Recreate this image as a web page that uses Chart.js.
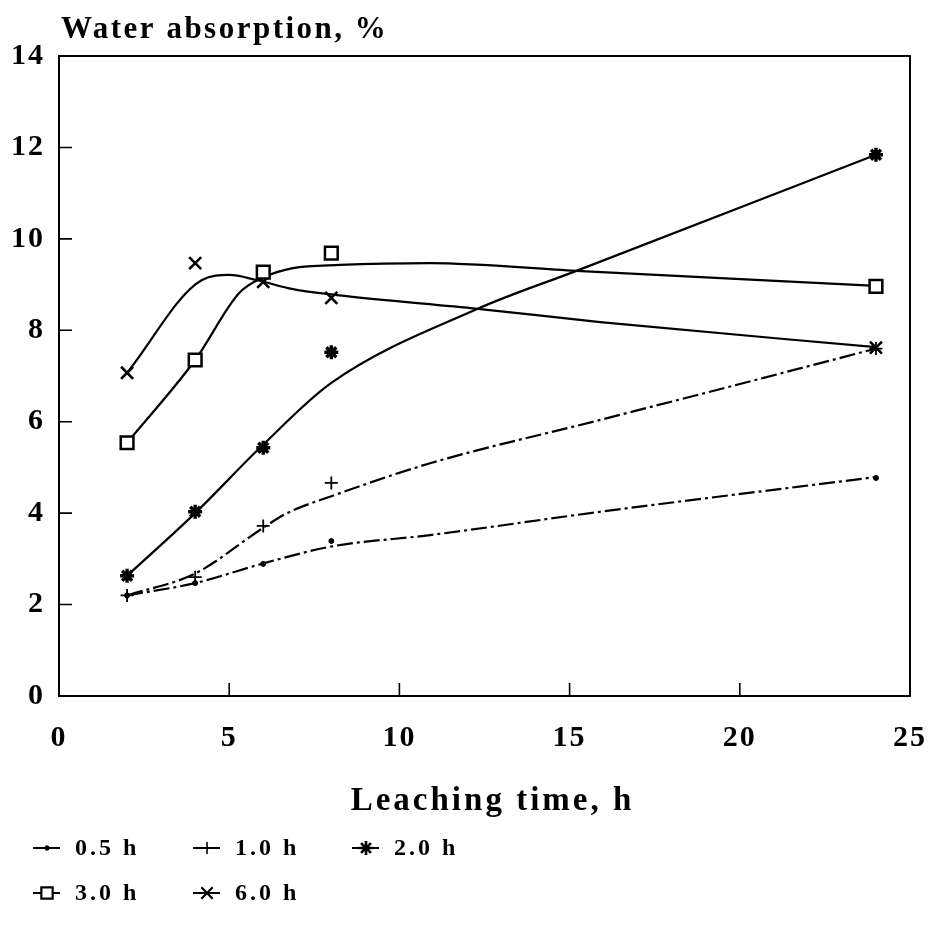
<!DOCTYPE html>
<html>
<head>
<meta charset="utf-8">
<script src="https://cdn.jsdelivr.net/npm/chart.js@4.4.1/dist/chart.umd.min.js"></script>
<style>
html,body{margin:0;padding:0;background:#fff;}
canvas{display:block;}
</style>
</head>
<body>
<canvas id="c" width="933" height="937"></canvas>
<script>
// ---- data ----
const hours = [2, 4, 6, 8, 24];
const seriesLabels = ['0.5 h', '1.0 h', '2.0 h', '3.0 h', '6.0 h'];
const t05 = [2.2, 2.47, 2.89, 3.39, 4.77];
const t10 = [2.2, 2.6, 3.72, 4.66, 7.6];
const t20 = [2.63, 4.03, 5.43, 7.52, 11.84];
const t30 = [5.54, 7.35, 9.27, 9.69, 8.96];
const t60 = [7.07, 9.47, 9.06, 8.71, 7.62];

// fitted curves (as drawn in the figure)
const curve05X = [2, 4, 6, 8, 10.9, 15.9, 24];
const curve05Y = [2.2, 2.47, 2.9, 3.27, 3.52, 4.03, 4.79];
const curve10X = [2, 4, 6, 6.7, 8, 10.9, 15.9, 20.7, 24];
const curve10Y = [2.2, 2.68, 3.68, 4.0, 4.37, 5.09, 6.04, 6.96, 7.6];
const curve20X = [2, 4, 6, 8, 12.3, 15.2, 24];
const curve20Y = [2.63, 4.0, 5.5, 6.85, 8.47, 9.3, 11.84];
const curve30X = [2, 4, 5.3, 6.05, 6.87, 8.26, 10.9, 15.2, 24];
const curve30Y = [5.54, 7.35, 8.82, 9.17, 9.36, 9.43, 9.47, 9.3, 8.97];
const curve60X = [2, 4.2, 5.0, 5.8, 6.87, 8.17, 12.3, 15.9, 24];
const curve60Y = [7.07, 9.1, 9.21, 9.1, 8.9, 8.77, 8.47, 8.18, 7.63];

const xTicks = [0, 5, 10, 15, 20, 25];
const yTicks = [0, 2, 4, 6, 8, 10, 12, 14];
const titleText = 'Water absorption, %';
const xTitleText = 'Leaching time, h';

// ---- build ----
const FONT = "'Liberation Serif', 'Times New Roman', serif";
const values = [t05, t10, t20, t30, t60];
const curveXs = [curve05X, curve10X, curve20X, curve30X, curve60X];
const curveYs = [curve05Y, curve10Y, curve20Y, curve30Y, curve60Y];
const dashes = [[16, 4, 3, 4], [16, 4, 3, 4], [], [], []];
const marks = [
  {style: 'circle', r: 2.5, bw: 1, bg: '#000'},
  {style: 'cross', r: 6.5, bw: 1.8, bg: '#000'},
  {style: 'star', r: 7, bw: 3.4, bg: '#000'},
  {style: 'rect', r: 9, bw: 2.5, bg: '#fff'},
  {style: 'crossRot', r: 8.5, bw: 2.6, bg: '#000'}
];
const legendMarks = [
  {style: 'circle', r: 2.2, bw: 1, bg: '#000'},
  {style: 'cross', r: 6, bw: 1.6, bg: '#000'},
  {style: 'star', r: 7, bw: 2.6, bg: '#000'},
  {style: 'rect', r: 8, bw: 2.2, bg: '#fff'},
  {style: 'crossRot', r: 8, bw: 2.2, bg: '#000'}
];
const pts = (xs, ys) => xs.map((x, i) => ({x: x, y: ys[i]}));

const datasets = [];
seriesLabels.forEach((lab, i) => {
  datasets.push({
    label: lab + ' curve',
    data: pts(curveXs[i], curveYs[i]),
    showLine: true,
    pointRadius: 0,
    pointHoverRadius: 0,
    borderColor: '#000',
    borderWidth: 2.2,
    borderDash: dashes[i],
    cubicInterpolationMode: 'monotone',
    fill: false,
    order: 2
  });
});
seriesLabels.forEach((lab, i) => {
  datasets.push({
    label: lab,
    data: pts(hours, values[i]),
    showLine: false,
    pointStyle: marks[i].style,
    pointRadius: marks[i].r,
    pointHoverRadius: marks[i].r,
    pointBorderWidth: marks[i].bw,
    pointBackgroundColor: marks[i].bg,
    pointBorderColor: '#000',
    order: 1
  });
});

function drawMarker(ctx, m, x, y) {
  ctx.save();
  ctx.fillStyle = m.bg;
  ctx.strokeStyle = '#000';
  ctx.lineWidth = m.bw;
  ctx.setLineDash([]);
  if (Chart.helpers && Chart.helpers.drawPoint) {
    Chart.helpers.drawPoint(ctx, {pointStyle: m.style, radius: m.r, borderWidth: m.bw, rotation: 0}, x, y);
  }
  ctx.restore();
}

const decor = {
  id: 'decor',
  beforeDraw(chart) {
    const ctx = chart.ctx;
    ctx.save();
    ctx.fillStyle = '#fff';
    ctx.fillRect(0, 0, chart.width, chart.height);
    ctx.restore();
    try { ctx.letterSpacing = '2px'; } catch (e) {}
  },
  afterDraw(chart) {
    const ctx = chart.ctx;
    const a = chart.chartArea;
    const xs = chart.scales.x, ys = chart.scales.y;
    ctx.save();
    ctx.strokeStyle = '#000';
    ctx.setLineDash([]);
    ctx.lineWidth = 2;
    ctx.strokeRect(a.left, a.top, a.right - a.left, a.bottom - a.top);
    // inside tick marks
    ctx.lineWidth = 1.6;
    ctx.beginPath();
    xTicks.forEach(v => {
      if (v === xs.min || v === xs.max) return;
      const px = xs.getPixelForValue(v);
      ctx.moveTo(px, a.bottom);
      ctx.lineTo(px, a.bottom - 13);
    });
    yTicks.forEach(v => {
      if (v === ys.min || v === ys.max) return;
      const py = ys.getPixelForValue(v);
      ctx.moveTo(a.left, py);
      ctx.lineTo(a.left + 13, py);
    });
    ctx.stroke();

    // titles
    ctx.fillStyle = '#000';
    ctx.textBaseline = 'alphabetic';
    try { ctx.letterSpacing = '2.5px'; } catch (e) {}
    ctx.font = "bold 31px " + FONT;
    ctx.textAlign = 'left';
    ctx.fillText(titleText, 61, 38);
    try { ctx.letterSpacing = '3px'; } catch (e) {}
    ctx.font = "bold 33px " + FONT;
    ctx.textAlign = 'center';
    ctx.fillText(xTitleText, (a.left + a.right) / 2 + 8, 810);

    // legend
    const colX = [33, 193, 352];
    const rowY = [848, 893];
    ctx.font = "bold 24px " + FONT;
    ctx.textAlign = 'left';
    ctx.textBaseline = 'middle';
    try { ctx.letterSpacing = '3px'; } catch (e) {}
    seriesLabels.forEach((lab, i) => {
      const cx = colX[i % 3], cy = rowY[Math.floor(i / 3)];
      ctx.save();
      ctx.strokeStyle = '#000';
      ctx.lineWidth = 2;
      ctx.setLineDash([]);
      ctx.beginPath();
      ctx.moveTo(cx, cy);
      ctx.lineTo(cx + 27, cy);
      ctx.stroke();
      ctx.restore();
      drawMarker(ctx, legendMarks[i], cx + 14, cy);
      ctx.fillStyle = '#000';
      ctx.fillText(lab, cx + 42, cy + 1);
    });
    ctx.restore();
  }
};

new Chart(document.getElementById('c'), {
  type: 'scatter',
  data: {datasets: datasets},
  options: {
    responsive: false,
    animation: false,
    devicePixelRatio: 1,
    layout: {padding: {top: 56, right: 23, bottom: 111, left: 0}},
    plugins: {legend: {display: false}, tooltip: {enabled: false}, title: {display: false}},
    scales: {
      x: {
        type: 'linear', min: 0, max: 25,
        afterBuildTicks: s => { s.ticks = xTicks.map(v => ({value: v})); },
        ticks: {font: {family: FONT, size: 30, weight: 'bold'}, color: '#000', padding: 24, maxRotation: 0, autoSkip: false},
        grid: {display: false, drawTicks: false},
        border: {display: false},
        afterFit: s => { s.height = 130; s.paddingLeft = 0; s.paddingRight = 0; }
      },
      y: {
        type: 'linear', min: 0, max: 14,
        afterBuildTicks: s => { s.ticks = yTicks.map(v => ({value: v})); },
        ticks: {font: {family: FONT, size: 30, weight: 'bold'}, color: '#000', padding: 14, autoSkip: false},
        grid: {display: false, drawTicks: false},
        border: {display: false},
        afterFit: s => { s.width = 59; s.paddingTop = 0; s.paddingBottom = 0; }
      }
    }
  },
  plugins: [decor]
});
</script>
</body>
</html>
